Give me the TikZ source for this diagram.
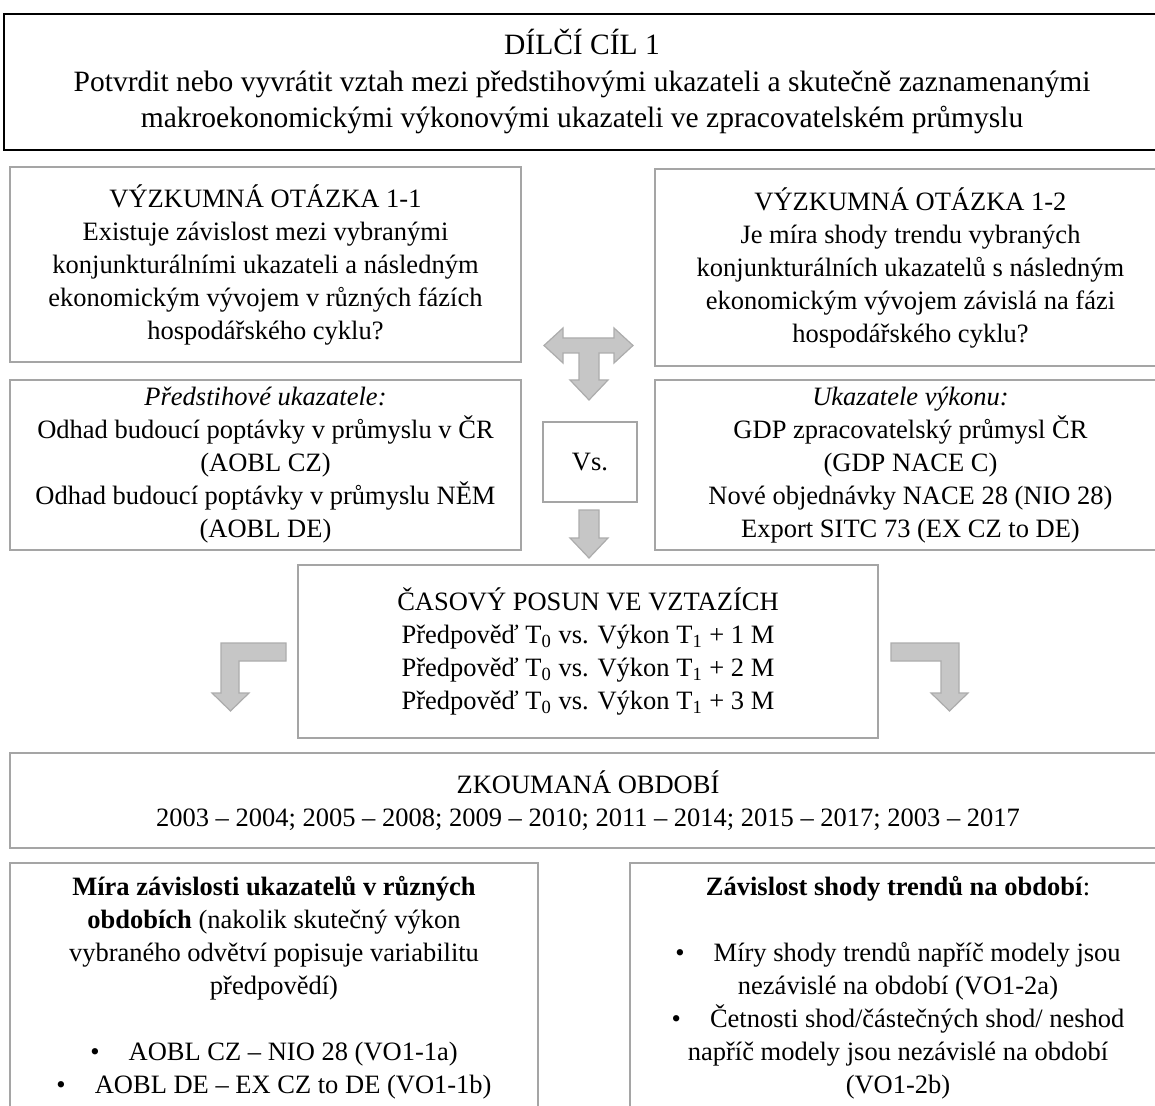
\documentclass[tikz,border=0pt]{standalone}
\usepackage{fontspec}
\setmainfont{Liberation Serif}
\definecolor{frame}{RGB}{165,165,165}
\definecolor{arrowfill}{RGB}{198,198,198}
\definecolor{arrowline}{RGB}{172,172,172}
\begin{document}
\begin{tikzpicture}[x=0.5pt, y=-0.5pt,
  font=\fontsize{13.25}{16.5}\selectfont,
  box/.style={draw=frame, line width=1pt, fill=white, align=center, inner sep=0pt},
  goalbox/.style={box, draw=black, line width=1.3pt, font=\fontsize{14.75}{18.25}\selectfont},
  txt/.style={align=center, anchor=north, inner sep=0pt},
  blockarrow/.style={fill=arrowfill, draw=arrowline, line width=0.6pt},
  ]
  %%% page frame, cut on the right and at the bottom %%%
  \clip (0,0) rectangle (1155,1106);

  %%% goal %%%
  \node[goalbox, minimum width=578pt, minimum height=68pt] (goal) at (582,82)
    {DÍLČÍ CÍL 1\\
     Potvrdit nebo vyvrátit vztah mezi předstihovými ukazateli a skutečně zaznamenanými\\
     makroekonomickými výkonovými ukazateli ve zpracovatelském průmyslu};

  %%% research questions %%%
  \node[box, minimum width=255.5pt, minimum height=97.5pt] (vo11) at (265.5,264.5)
    {VÝZKUMNÁ OTÁZKA 1-1\\
     Existuje závislost mezi vybranými\\
     konjunkturálními ukazateli a následným\\
     ekonomickým vývojem v různých fázích\\
     hospodářského cyklu?};
  \node[box, minimum width=255.5pt, minimum height=98.5pt] (vo12) at (910.5,267.5)
    {VÝZKUMNÁ OTÁZKA 1-2\\
     Je míra shody trendu vybraných\\
     konjunkturálních ukazatelů s následným\\
     ekonomickým vývojem závislá na fázi\\
     hospodářského cyklu?};

  %%% indicators %%%
  \node[box, minimum width=255.5pt, minimum height=85pt] (lead) at (265.5,465)
    {\textit{Předstihové ukazatele:}\\
     Odhad budoucí poptávky v průmyslu v ČR\\
     (AOBL CZ)\\
     Odhad budoucí poptávky v průmyslu NĚM\\
     (AOBL DE)};
  \node[box, minimum width=47pt, minimum height=40pt] (vs) at (590,462) {Vs.};
  \node[box, minimum width=255.5pt, minimum height=85pt] (perf) at (910.5,465)
    {\textit{Ukazatele výkonu:}\\
     GDP zpracovatelský průmysl ČR\\
     (GDP NACE C)\\
     Nové objednávky NACE 28 (NIO 28)\\
     Export SITC 73 (EX CZ to DE)};

  %%% time shift %%%
  \node[box, minimum width=290pt, minimum height=86.5pt] (shift) at (588,651.5)
    {ČASOVÝ POSUN VE VZTAZÍCH\\
     Předpověď T\textsubscript{0} vs. Výkon T\textsubscript{1} + 1 M\\
     Předpověď T\textsubscript{0} vs. Výkon T\textsubscript{1} + 2 M\\
     Předpověď T\textsubscript{0} vs. Výkon T\textsubscript{1} + 3 M};

  %%% periods %%%
  \node[box, minimum width=578pt, minimum height=47.5pt] (periods) at (588,800.5)
    {ZKOUMANÁ OBDOBÍ\\
     2003 – 2004; 2005 – 2008; 2009 – 2010; 2011 – 2014; 2015 – 2017; 2003 – 2017};

  %%% results (boxes run past the bottom edge) %%%
  \node[box, minimum width=264pt, minimum height=138.5pt] (resl) at (274,1001.5) {};
  \node[box, minimum width=268pt, minimum height=138.5pt] (resr) at (898,1001.5) {};
  \node[txt] (resltxt) at (274,876)
    {\textbf{Míra závislosti ukazatelů v různých}\\
     \textbf{obdobích} (nakolik skutečný výkon\\
     vybraného odvětví popisuje variabilitu\\
     předpovědí)\\[16.5pt]
     \textbullet\hspace{1.1em}AOBL CZ – NIO 28 (VO1-1a)\\
     \textbullet\hspace{1.1em}AOBL DE – EX CZ to DE (VO1-1b)};
  \node[txt] (resrtxt) at (898,876)
    {\textbf{Závislost shody trendů na období}:\\[16.5pt]
     \textbullet\hspace{1.1em}Míry shody trendů napříč modely jsou\\
     nezávislé na období (VO1-2a)\\
     \textbullet\hspace{1.1em}Četnosti shod/částečných shod/ neshod\\
     napříč modely jsou nezávislé na období\\
     (VO1-2b)};

  %%% block arrows %%%
  \draw[blockarrow] (544,345.5) -- (563,328) -- (563,338) -- (614,338) -- (614,328)
    -- (633,345.5) -- (614,363) -- (614,353) -- (599,353) -- (599,380) -- (608,380)
    -- (589,400) -- (570,380) -- (579,380) -- (579,353) -- (563,353) -- (563,363) -- cycle;
  \draw[blockarrow] (579,510) -- (599,510) -- (599,538) -- (608,538) -- (589,558)
    -- (570,538) -- (579,538) -- cycle;
  \draw[blockarrow] (286,643) -- (221,643) -- (221,693) -- (212,693) -- (230.5,711)
    -- (249,693) -- (239,693) -- (239,661) -- (286,661) -- cycle;
  \draw[blockarrow] (891,643) -- (959,643) -- (959,693) -- (968,693) -- (949.5,711)
    -- (931,693) -- (941,693) -- (941,661) -- (891,661) -- cycle;
\end{tikzpicture}
\end{document}
